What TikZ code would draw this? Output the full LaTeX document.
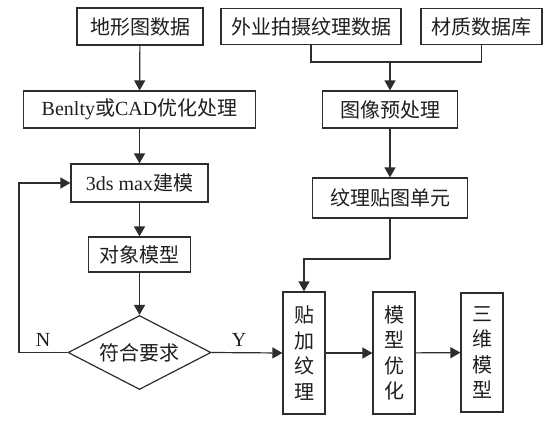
\documentclass[tikz,border=0pt]{standalone}
\usepackage{fontspec}
\setmainfont{Liberation Serif}
\newfontfamily\cjk{Noto Sans CJK SC}
\usetikzlibrary{arrows.meta,shapes.geometric,calc}
\newcommand{\zh}[1]{{\cjk #1}}
\definecolor{ln}{RGB}{45,45,45}
\definecolor{tx}{RGB}{30,30,30}
\tikzset{
  box/.style={draw=ln, line width=1.2pt, rectangle, inner sep=0pt, text=tx,
    font=\fontsize{20}{25.5}\selectfont, align=center},
  vbox/.style={box, minimum width=42pt, minimum height=122pt},
  dia/.style={draw=ln, line width=1.2pt, diamond, aspect=1.93, inner sep=0pt, text=tx,
    minimum width=143pt, minimum height=74pt, font=\fontsize{20}{24}\selectfont},
  conn/.style={draw=ln, line width=1.2pt},
  arr/.style={conn, -{Triangle[length=10pt,width=11pt]}},
  lbl/.style={text=tx, font=\fontsize{20}{24}\selectfont, inner sep=0pt}
}
\begin{document}
\begin{tikzpicture}[x=1pt,y=-1pt]
\useasboundingbox (0,0) rectangle (552,426);
\fill[white] (0,0) rectangle (552,426);
% top row
\node[box, minimum width=126pt, minimum height=37pt] (t1) at (140,26.5) {\zh{地形图数据}};
\node[box, minimum width=180pt, minimum height=36pt] (t2) at (311,26.5) {\zh{外业拍摄纹理数据}};
\node[box, minimum width=121pt, minimum height=36pt] (t3) at (481.5,26.5) {\zh{材质数据库}};
% second row
\node[box, minimum width=232pt, minimum height=37pt] (b1) at (139.5,109.5) {Benlty\zh{或}CAD\zh{优化处理}};
\node[box, minimum width=135pt, minimum height=37pt] (b2) at (390,109.5) {\zh{图像预处理}};
% left column
\node[box, minimum width=137pt, minimum height=38pt] (c1) at (139.5,183) {3ds max\zh{建模}};
\node[box, minimum width=102pt, minimum height=35pt] (d1) at (139.5,254.5) {\zh{对象模型}};
\node[dia] (e) at (139.5,352.5) {\zh{符合要求}};
% right column
\node[box, minimum width=155pt, minimum height=40pt] (c2) at (390,198) {\zh{纹理贴图单元}};
% bottom row
\node[vbox] (v1) at (304,353) {\zh{贴}\\\zh{加}\\\zh{纹}\\\zh{理}};
\node[vbox] (v2) at (394,353) {\zh{模}\\\zh{型}\\\zh{优}\\\zh{化}};
\node[vbox, minimum height=119pt] (v3) at (482,352.5) {\zh{三}\\\zh{维}\\\zh{模}\\\zh{型}};
% helper coordinates
\coordinate (j) at (390,62);
\coordinate (fb) at (19,352.5);
\coordinate (k) at (390,259);
% connectors
\draw[arr] (t1) -- (b1);
\draw[arr] (b1) -- (c1);
\draw[arr] (c1) -- (d1);
\draw[arr] (d1) -- (e);
\draw[conn] (t2.south) |- (j) -| (t3.south);
\draw[arr] (j) -- (b2);
\draw[arr] (b2) -- (c2);
\draw[conn] (c2.south) -- (k);
\draw[arr] (k) -| (v1.north);
\draw[arr] (e.west) -- (fb) |- (c1.west);
\draw[arr] (e.east) -- (v1.west);
\draw[arr] (v1) -- (v2);
\draw[arr] (v2) -- (v3);
% labels
\node[lbl] (n) at (43,340) {N};
\node[lbl] (y) at (239,340) {Y};
\end{tikzpicture}
\end{document}
